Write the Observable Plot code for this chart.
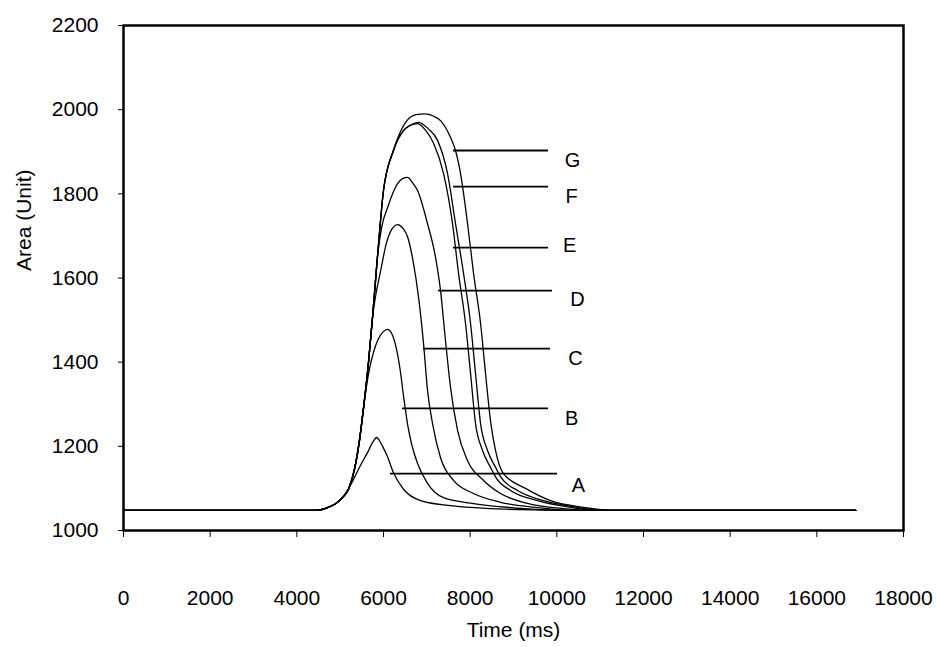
<!DOCTYPE html>
<html>
<head>
<meta charset="utf-8">
<script src="https://cdn.jsdelivr.net/npm/d3@7"></script>
<script src="https://cdn.jsdelivr.net/npm/@observablehq/plot@0.6"></script>
<style>
  html, body { margin: 0; padding: 0; background: #fff; }
  #chart { width: 936px; height: 647px; }
</style>
</head>
<body>
<div id="chart"></div>
<script>
// ---- data ----
const xTicks = [0, 2000, 4000, 6000, 8000, 10000, 12000, 14000, 16000, 18000];
const yTicks = [1000, 1200, 1400, 1600, 1800, 2000, 2200];

const riseBase = [[0,1048],[4450,1048],[4700,1054],[4900,1064],[5050,1078],[5200,1100]];
const riseUpper = [[5330,1145],[5440,1210],[5540,1292],[5650,1395],[5750,1510],[5860,1649],[6000,1808],[6230,1903]];

const seriesA = [[5310,1122],[5470,1155],[5631,1185],[5760,1211],[5839,1221],[5900,1215],[5980,1200],[6093,1175],[6231,1137],[6462,1098],[6855,1071],[7547,1059],[8500,1052],[9500,1049],[10300,1048],[16900,1048]];
const seriesB = [[5330,1145],[5440,1210],[5540,1292],[5650,1370],[5760,1420],[5880,1455],[5990,1472],[6093,1478],[6180,1470],[6280,1440],[6380,1385],[6462,1320],[6560,1250],[6650,1205],[6786,1159],[7016,1112],[7386,1078],[8078,1064],[9000,1054],[10200,1048],[16900,1048]];
const seriesC = [[5330,1145],[5440,1210],[5540,1292],[5650,1395],[5750,1510],[5840,1570],[5930,1615],[6060,1680],[6170,1712],[6324,1727],[6450,1718],[6555,1698],[6693,1634],[6809,1554],[6924,1444],[7016,1333],[7132,1254],[7316,1173],[7616,1119],[8078,1088],[8701,1067],[9500,1055],[10300,1048],[16900,1048]];
const seriesD = [[5330,1145],[5440,1210],[5540,1292],[5650,1395],[5750,1510],[5860,1649],[5960,1722],[6093,1767],[6324,1824],[6440,1836],[6555,1839],[6680,1825],[6786,1808],[7016,1729],[7201,1649],[7316,1570],[7432,1450],[7547,1340],[7709,1238],[7940,1166],[8309,1119],[8701,1088],[9300,1065],[10155,1052],[10800,1048],[16900,1048]];
const seriesE = [[6460,1950],[6620,1963],[6785,1967],[6980,1950],[7155,1920],[7386,1848],[7593,1729],[7732,1611],[7893,1492],[8009,1373],[8124,1254],[8286,1190],[8470,1150],[8600,1125],[8932,1095],[9555,1071],[10317,1055],[10900,1048],[16900,1048]];
const seriesF = [[6460,1950],[6620,1963],[6808,1970],[7030,1955],[7247,1927],[7478,1848],[7662,1729],[7847,1611],[8009,1492],[8124,1373],[8240,1254],[8401,1190],[8586,1150],[8700,1128],[9093,1095],[9694,1071],[10478,1055],[11000,1048],[16900,1048]];
const seriesG = [[6400,1950],[6550,1975],[6750,1988],[6950,1990],[7150,1985],[7316,1974],[7547,1934],[7662,1903],[7778,1848],[7940,1729],[8078,1611],[8240,1492],[8355,1373],[8470,1260],[8586,1190],[8770,1135],[9278,1100],[9855,1071],[10617,1055],[11300,1048],[16900,1048]];

// pointer lines and labels
const labelNames = ["G", "F", "E", "D", "C", "B", "A"];
const pointerY  = [1903, 1817, 1672, 1570, 1432, 1290, 1135];
const pointerX1 = [7616, 7616, 7616, 7270, 6924, 6439, 6162];
const pointerX2 = [9809, 9809, 9809, 9901, 9855, 9809, 10017];
const labelX = [10363, 10340, 10294, 10478, 10432, 10340, 10501];
const labelY = [1879, 1794, 1677, 1549, 1409, 1266, 1107];

// ---- build tables ----
const seriesDefs = [
  ["A", riseBase.concat(seriesA)],
  ["B", riseBase.concat(seriesB)],
  ["C", riseBase.concat(seriesC)],
  ["D", riseBase.concat(seriesD)],
  ["E", riseBase.concat(riseUpper, seriesE)],
  ["F", riseBase.concat(riseUpper, seriesF)],
  ["G", riseBase.concat(riseUpper, seriesG)]
];
const lineData = [];
for (const [name, pts] of seriesDefs) for (const [t, v] of pts) lineData.push({series: name, t, v});

const pointers = labelNames.map((n, i) => ({name: n, y: pointerY[i], x1: pointerX1[i], x2: pointerX2[i], lx: labelX[i], ly: labelY[i]}));

const chart = Plot.plot({
  width: 936,
  height: 647,
  marginLeft: 123,
  marginRight: 33,
  marginTop: 25,
  marginBottom: 117,
  style: {fontFamily: "'Liberation Sans', Arial, sans-serif", fontSize: "21px", background: "#fff", color: "#000"},
  x: {domain: [0, 18000]},
  y: {domain: [1000, 2200]},
  marks: [
    Plot.axisY({ticks: yTicks, tickSize: 5, tickPadding: 20, label: null, fontSize: 21, tickFormat: d => String(d)}),
    Plot.axisX({ticks: xTicks, tickSize: 7, tickPadding: 53, label: null, fontSize: 21, tickFormat: d => String(d)}),
    Plot.line(lineData, {x: "t", y: "v", z: "series", stroke: "#000", strokeWidth: 1.3, curve: "monotone-x"}),
    Plot.ruleY(pointers, {y: "y", x1: "x1", x2: "x2", stroke: "#000", strokeWidth: 1.8}),
    Plot.text(pointers, {x: "lx", y: "ly", text: "name", fontSize: 20, fill: "#000"}),
    Plot.text(["Time (ms)"], {frameAnchor: "bottom", dy: 106, fontSize: 21, fill: "#000"}),
    Plot.text(["Area (Unit)"], {frameAnchor: "left", dx: -99, dy: -7, rotate: -90, fontSize: 21, fill: "#000"}),
    Plot.frame({stroke: "#000", strokeWidth: 2.5})
  ]
});
document.getElementById("chart").appendChild(chart);
</script>
</body>
</html>
